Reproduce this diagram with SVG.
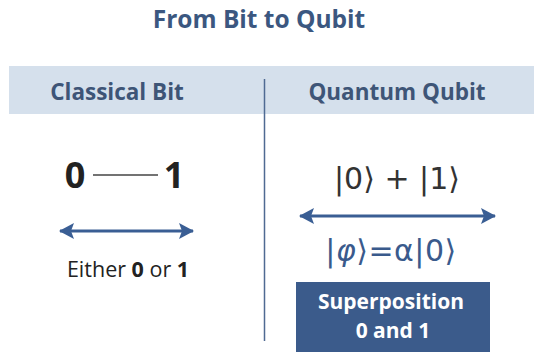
<svg xmlns="http://www.w3.org/2000/svg" width="534" height="352" viewBox="0 0 534 352">
<defs>
<style>
.title{font-family:"Open Sans","Liberation Sans",sans-serif;font-weight:700;font-size:24.5px;fill:#3b5780;}
.hdr{font-family:"Open Sans","Liberation Sans",sans-serif;font-weight:700;font-size:22.5px;fill:#3e5577;}
.bit{font-family:"Open Sans","Liberation Sans",sans-serif;font-weight:700;font-size:36px;fill:#222;}
.cap{font-family:"Open Sans","Liberation Sans",sans-serif;font-size:21.5px;fill:#222;}
.math{font-family:"DejaVu Sans","Open Sans",sans-serif;font-size:30px;}
.box{font-family:"Open Sans","Liberation Sans",sans-serif;font-weight:700;font-size:21px;fill:#fff;}
.arr{stroke:#3a5e94;stroke-width:3;fill:none;}
</style>
<marker id="ah" markerUnits="userSpaceOnUse" markerWidth="16" markerHeight="18" refX="14" refY="8" orient="auto-start-reverse" viewBox="0 0 16 16">
<path d="M0,0 L15,8 L0,16 L3,8 Z" fill="#3a5e94"/>
</marker>
</defs>
<rect width="534" height="352" fill="#fff"/>
<text class="title" x="259" y="28" text-anchor="middle">From Bit to Qubit</text>
<g id="header">
<rect x="9" y="66" width="525" height="48" fill="#d5e0ec"/>
<text class="hdr" x="117" y="100" text-anchor="middle">Classical Bit</text>
<text class="hdr" x="397" y="100" text-anchor="middle">Quantum Qubit</text>
</g>
<line x1="264.5" y1="79" x2="264.5" y2="341" stroke="#4f6a92" stroke-width="1.5"/>
<g id="classical">
<text class="bit" x="75" y="188" text-anchor="middle">0</text>
<line x1="93" y1="175" x2="158" y2="175" stroke="#444" stroke-width="1.5"/>
<text class="bit" x="174" y="188" text-anchor="middle">1</text>
<text class="cap" x="128" y="277" text-anchor="middle">Either <tspan font-weight="700">0</tspan> or <tspan font-weight="700">1</tspan></text>
</g>
<g id="quantum">
<text class="math" x="397" y="189" text-anchor="middle" fill="#333">|0⟩ + |1⟩</text>
<text class="math" x="391" y="261" text-anchor="middle" fill="#3a5a8c" font-size="33" letter-spacing="0.5">|<tspan font-style="italic">φ</tspan>⟩=α|0⟩</text>
</g>
<g id="superposition">
<rect x="296" y="282" width="194" height="70" fill="#3b5b8b"/>
<text class="box" x="391" y="309" text-anchor="middle">Superposition</text>
<text class="box" x="393" y="338" text-anchor="middle">0 and 1</text>
</g>
<g id="connectors">
<line class="arr" x1="60" y1="231" x2="193" y2="231" marker-start="url(#ah)" marker-end="url(#ah)"/>
<line class="arr" x1="300" y1="216" x2="495" y2="216" marker-start="url(#ah)" marker-end="url(#ah)"/>
</g>
</svg>
